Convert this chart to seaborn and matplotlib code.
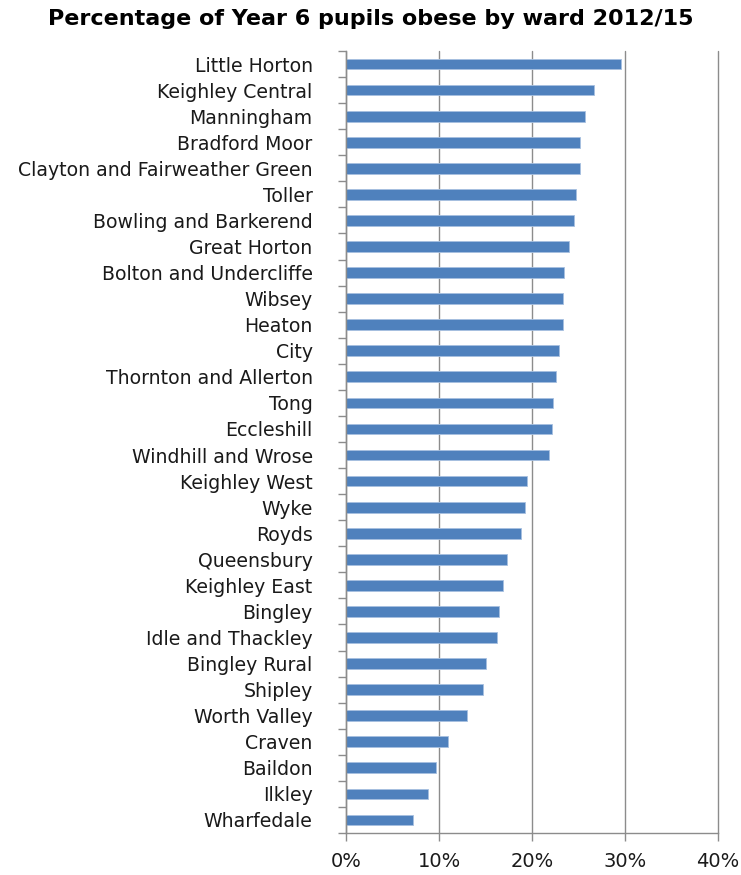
import matplotlib.pyplot as plt
import pandas as pd
import seaborn as sns
from matplotlib.ticker import FixedLocator, PercentFormatter

# Ward names, top to bottom as shown
wards = ['Little Horton', 'Keighley Central', 'Manningham', 'Bradford Moor',
         'Clayton and Fairweather Green', 'Toller', 'Bowling and Barkerend',
         'Great Horton', 'Bolton and Undercliffe', 'Wibsey', 'Heaton', 'City',
         'Thornton and Allerton', 'Tong', 'Eccleshill', 'Windhill and Wrose',
         'Keighley West', 'Wyke', 'Royds', 'Queensbury', 'Keighley East',
         'Bingley', 'Idle and Thackley', 'Bingley Rural', 'Shipley',
         'Worth Valley', 'Craven', 'Baildon', 'Ilkley', 'Wharfedale']

# Percentage of Year 6 pupils obese, 2012/15
obese_pct = [29.6, 26.7, 25.7, 25.2, 25.2, 24.7, 24.5, 24.0, 23.4, 23.3,
             23.3, 22.9, 22.6, 22.3, 22.2, 21.8, 19.5, 19.2, 18.8, 17.3,
             16.9, 16.5, 16.2, 15.0, 14.7, 13.0, 11.0, 9.7, 8.8, 7.2]

x_ticks = [0, 10, 20, 30, 40]

df = pd.DataFrame({'ward': wards, 'pct': obese_pct})

sns.set_style('white')
plt.rcParams['font.family'] = ['DejaVu Sans']

fig = plt.figure(figsize=(7.41, 8.75), dpi=100)
ax = fig.add_axes([346 / 741, 1 - 833 / 875, (718 - 346) / 741, (833 - 51) / 875])

sns.barplot(data=df, x='pct', y='ward', orient='h', color='#4F81BD',
            saturation=1, width=0.41, edgecolor='#A7C0E0', linewidth=0.6, ax=ax)

ax.set_xlim(0, 40)
ax.set_ylim(len(wards) - 0.5, -0.5)
ax.set_xticks(x_ticks)
ax.xaxis.set_major_formatter(PercentFormatter(decimals=0))
ax.grid(axis='x', color='#8c8c8c', linewidth=1)
ax.set_axisbelow(True)
for gl in ax.xaxis.get_gridlines():
    gl.set_clip_on(False)

# Excel-style tick marks between categories
ax.yaxis.set_minor_locator(FixedLocator([i - 0.5 for i in range(len(wards) + 1)]))
ax.tick_params(axis='y', which='minor', left=True, length=6, width=1, color='#8c8c8c')
ax.tick_params(axis='y', which='major', left=False, length=0, pad=24,
               labelsize=13.6, labelcolor='#1a1a1a')
ax.tick_params(axis='x', which='major', bottom=True, length=6, width=1,
               color='#8c8c8c', pad=8, labelsize=14, labelcolor='#1a1a1a')

for side in ['top', 'right']:
    ax.spines[side].set_visible(False)
for side in ['left', 'bottom']:
    ax.spines[side].set_color('#8c8c8c')
    ax.spines[side].set_linewidth(1)

ax.set_xlabel('')
ax.set_ylabel('')

fig.suptitle('Percentage of Year 6 pupils obese by ward 2012/15', x=0.5, y=0.99,
             fontsize=16, fontweight='bold', color='black')

fig.savefig('out.png', dpi=100)
